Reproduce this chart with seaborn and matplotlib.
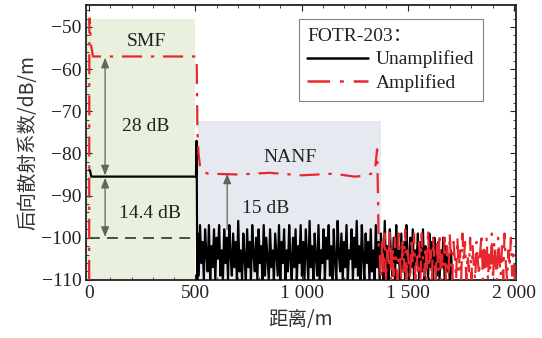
import numpy as np
import pandas as pd
import matplotlib
matplotlib.use("Agg")
import matplotlib.pyplot as plt
from matplotlib.ticker import MultipleLocator, FuncFormatter
from matplotlib.font_manager import FontProperties
from matplotlib.lines import Line2D
import seaborn as sns

# ---------------- data ----------------
# Unamplified (black) main trace: SMF level and NANF entry spike
unamp_x = [0, 4, 10, 20, 495, 503, 506, 509]
unamp_y = [-84, -84, -85.5, -85.5, -85.5, -85.5, -77, -110]

# Unamplified noise after 510 m (step 6 m)
unamp_noise_x0, unamp_noise_step = 510, 6
unamp_noise = [
    -99, -109, -97, -106, -101, -110, -98, -104, -108, -97, -110, -102, -107, -98, -110, -100, -105, -97, -109, -103,
    -110, -98, -106, -100, -110, -97, -104, -109, -99, -107, -101, -110, -96, -108, -103, -110, -99, -105, -110, -98,
    -107, -101, -110, -97, -104, -108, -100, -110, -98, -106, -102, -110, -97, -109, -100, -105, -110, -98, -107, -103,
    -110, -99, -104, -109, -97, -110, -101, -106, -98, -110, -103, -108, -97, -105, -110, -100, -107, -98, -110, -102,
    -106, -97, -109, -101, -110, -98, -104, -110, -96, -107, -102, -110, -99, -105, -109, -97, -110, -103, -106, -98,
    -110, -100, -105, -97, -109, -102, -110, -98, -106, -110, -96, -104, -108, -99, -110, -101, -107, -97, -110, -103,
    -105, -98, -110, -100, -107, -96, -109, -102, -110, -97, -105, -110, -99, -106, -101, -110, -98, -108, -103, -110,
    -97, -107, -101, -110, -99, -104, -110, -96, -108, -102, -110, -98, -105, -109, -100, -110, -97, -106, -103, -110,
    -99, -108, -101, -110, -97, -105, -110, -100, -107, -98, -110, -103, -106, -99, -110, -101, -108, -98, -110, -102,
    -104, -110, -99, -107, -101, -110, -100, -106, -109, -101, -110, -103, -107, -100, -110, -102, -108, -104, -110, -103,
    -110,
]

# Amplified (red) main trace
amp_x = [0, 1, 3, 8, 18, 490, 500, 506, 510, 515, 522, 535, 560, 700, 850, 1000, 1150, 1250, 1300, 1345, 1356, 1360, 1364]
amp_y = [-110, -48, -48, -54, -57, -57, -57, -57, -75, -80, -83, -84.3, -84.8, -85, -84.6, -85.2, -84.8, -85.5, -85.3, -84.5, -79, -90, -103]

# Amplified noise after 1368 m (step 6 m)
amp_noise_x0, amp_noise_step = 1368, 6
amp_noise = [
    -104, -110, -100, -108, -99, -110, -103, -107, -98, -110, -102, -109, -100, -106, -110, -99, -105, -110, -101, -108,
    -98, -110, -103, -107, -110, -100, -106, -99, -110, -104, -108, -101, -110, -99, -105, -109, -102, -110, -98, -107,
    -103, -110, -100, -106, -110, -101, -108, -99, -110, -104, -107, -100, -110, -102, -109, -99, -106, -110, -101, -105,
    -110, -100, -108, -103, -110, -99, -106, -101, -110, -104, -108, -100, -110, -102, -107, -110, -101, -105, -109, -103,
    -99, -110, -102, -107, -100, -110, -104, -108, -99, -110, -101, -106, -110, -100, -105, -109, -102, -110, -99, -106,
    -110, -103, -107, -100, -109, -104, -110,
]

series_names = ["Unamplified", "Amplified"]
noise_floor = -100
smf_range = (0, 500)
nanf_range = (512, 1375)

x_ticks = [0, 500, 1000, 1500, 2000]
y_ticks = [-110, -100, -90, -80, -70, -60, -50]

# ---------------- build table ----------------
ux = unamp_x + [unamp_noise_x0 + i * unamp_noise_step for i in range(len(unamp_noise))]
uy = unamp_y + unamp_noise
axx = amp_x + [amp_noise_x0 + i * amp_noise_step for i in range(len(amp_noise))]
ay = amp_y + amp_noise
df = pd.concat([
    pd.DataFrame({"dist": ux, "val": uy, "series": series_names[0]}),
    pd.DataFrame({"dist": axx, "val": ay, "series": series_names[1]}),
], ignore_index=True)

# ---------------- style ----------------
sns.set_theme(style="ticks")
plt.rcParams["font.family"] = ["Liberation Serif", "Noto Sans CJK SC", "DejaVu Sans"]
plt.rcParams["axes.unicode_minus"] = True

fig = plt.figure(figsize=(5.42, 3.38), dpi=100)
ax = fig.add_axes([0.159, 0.172, 0.793, 0.813])

red = "#e8262d"
dashdot = (9, 4, 1.5, 4)

# shaded regions
ax.fill_between([-14, smf_range[1]], -110, -48.1, color="#e9f0dd", zorder=0, lw=0)
ax.fill_between(list(nanf_range), -110, -72.3, color="#e7e9f1", zorder=0, lw=0)

# noise floor reference
ax.plot([0, 500], [noise_floor, noise_floor], color="#2f4a30", lw=1.3, dashes=(6, 4), zorder=2)

sns.lineplot(data=df, x="dist", y="val", hue="series", style="series",
             palette={"Unamplified": "black", "Amplified": red},
             dashes={"Unamplified": "", "Amplified": dashdot},
             sort=False, estimator=None, lw=1.6, ax=ax, legend=False, zorder=3)

# arrows
acol = "#5a6a55"
arrow_kw = dict(arrowstyle="<|-|>,head_length=0.5,head_width=0.2", color=acol, lw=0.9,
                shrinkA=0, shrinkB=0)
ax.annotate("", xy=(75, -57.3), xytext=(75, -85.2), arrowprops=arrow_kw)
ax.annotate("", xy=(75, -85.8), xytext=(75, -99.8), arrowprops=arrow_kw)
ax.annotate("", xy=(650, -84.8), xytext=(650, -98),
            arrowprops=dict(arrowstyle="-|>,head_length=0.5,head_width=0.2", color=acol, lw=0.9,
                            shrinkA=0, shrinkB=0))

tc = "#222222"
ax.text(270, -53.5, "SMF", fontsize=14, color=tc, ha="center", va="center")
ax.text(265, -73.7, "28 dB", fontsize=14, color=tc, ha="center", va="center")
ax.text(285, -94.2, "14.4 dB", fontsize=14, color=tc, ha="center", va="center")
ax.text(945, -81, "NANF", fontsize=14, color=tc, ha="center", va="center")
ax.text(830, -93, "15 dB", fontsize=14, color=tc, ha="center", va="center")

# legend
handles = [Line2D([], [], color="black", lw=1.8),
           Line2D([], [], color=red, lw=1.8, dashes=dashdot)]
leg = ax.legend(handles, series_names, title="FOTR-203：", loc="upper right",
                bbox_to_anchor=(0.945, 0.985), fontsize=14, handlelength=3.1,
                handletextpad=0.4, labelspacing=0.3, borderpad=0.45,
                frameon=True, fancybox=False, edgecolor="#666666", alignment="left",
                title_fontproperties=FontProperties(family=["Liberation Serif", "Noto Sans CJK SC"], size=14))
leg.get_frame().set_linewidth(0.8)
for t in leg.get_texts():
    t.set_color(tc)
leg.get_title().set_color(tc)

# axes
ax.set_xlim(-14, 2010)
ax.set_ylim(-110, -44.8)
ax.set_xticks(x_ticks)
ax.set_yticks(y_ticks)
ax.xaxis.set_minor_locator(MultipleLocator(100))
ax.yaxis.set_minor_locator(MultipleLocator(2))
ax.xaxis.set_major_formatter(FuncFormatter(lambda v, p: f"{int(v):,}".replace(",", " ")))
ax.yaxis.set_major_formatter(FuncFormatter(lambda v, p: f"{int(v)}".replace("-", "\u2212")))
ax.tick_params(which="both", top=True, right=True, direction="in", colors="#222222", labelsize=14)
ax.tick_params(which="major", length=4, width=0.8)
ax.tick_params(which="minor", length=2, width=0.6)
for s in ax.spines.values():
    s.set_linewidth(1.3)
    s.set_color("#222222")

ax.set_xlabel("距离/m", fontsize=14, family=["Noto Sans CJK SC", "DejaVu Sans"], color="#333333", labelpad=5)
ax.set_ylabel("后向散射系数/dB/m", fontsize=14, family=["Noto Sans CJK SC", "DejaVu Sans"], color="#333333", labelpad=2)

fig.savefig("out.png", dpi=100)
